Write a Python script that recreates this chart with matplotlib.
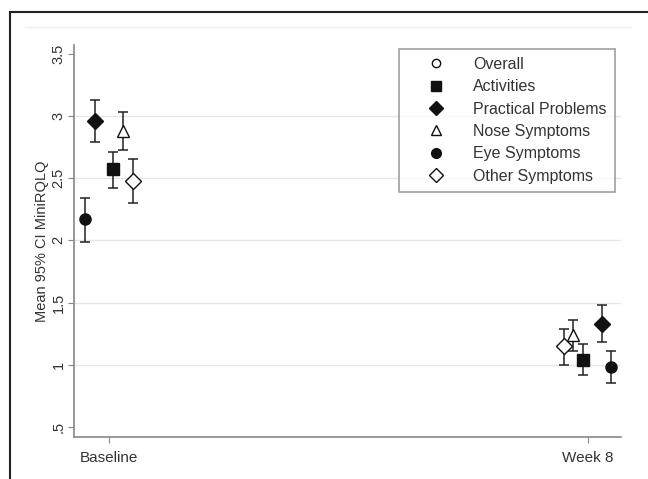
import numpy as np
import matplotlib
matplotlib.use('Agg')
from matplotlib import pyplot as plt
from matplotlib.lines import Line2D

plt.rcParams['font.family'] = ['Liberation Sans', 'DejaVu Sans']

timepoints = ['Baseline', 'Week 8']
domains = ['Overall', 'Activities', 'Practical Problems', 'Nose Symptoms',
           'Eye Symptoms', 'Other Symptoms']

# mean, lower and upper 95% CI per domain (baseline, week 8); Overall not plotted
mean = {
    'Overall': [np.nan, np.nan],
    'Activities': [2.57, 1.04],
    'Practical Problems': [2.96, 1.33],
    'Nose Symptoms': [2.88, 1.24],
    'Eye Symptoms': [2.17, 0.98],
    'Other Symptoms': [2.48, 1.15],
}
lower = {
    'Overall': [np.nan, np.nan],
    'Activities': [2.42, 0.92],
    'Practical Problems': [2.79, 1.18],
    'Nose Symptoms': [2.73, 1.11],
    'Eye Symptoms': [1.99, 0.85],
    'Other Symptoms': [2.30, 1.00],
}
upper = {
    'Overall': [np.nan, np.nan],
    'Activities': [2.71, 1.17],
    'Practical Problems': [3.13, 1.48],
    'Nose Symptoms': [3.03, 1.36],
    'Eye Symptoms': [2.34, 1.11],
    'Other Symptoms': [2.65, 1.29],
}

# horizontal jitter of each domain around the time point
jitter = {
    'Overall': [0.0, 0.0],
    'Activities': [0.008, -0.010],
    'Practical Problems': [-0.031, 0.030],
    'Nose Symptoms': [0.029, -0.030],
    'Eye Symptoms': [-0.052, 0.050],
    'Other Symptoms': [0.049, -0.050],
}

styles = {
    'Overall': dict(marker='o', mfc='white', ms=7),
    'Activities': dict(marker='s', mfc='#111111', ms=8),
    'Practical Problems': dict(marker='D', mfc='#111111', ms=8),
    'Nose Symptoms': dict(marker='^', mfc='white', ms=8),
    'Eye Symptoms': dict(marker='o', mfc='#111111', ms=8),
    'Other Symptoms': dict(marker='D', mfc='white', ms=8),
}

fig = plt.figure(figsize=(6.48, 4.79), dpi=100)
ax = fig.add_axes([74/648, 1-437/479, (621-74)/648, (437-45)/479])

# outer frame (only left and top edges fall inside the image)
fig.add_artist(Line2D([9.5/648, 9.5/648], [0, 1-12/479], transform=fig.transFigure,
                      color='#222222', lw=1.5))
fig.add_artist(Line2D([9.5/648, 1], [1-12/479, 1-12/479], transform=fig.transFigure,
                      color='#222222', lw=1.5))
fig.add_artist(Line2D([25/648, 631/648], [1-27/479, 1-27/479], transform=fig.transFigure,
                      color='#eeeeee', lw=1))

x = np.arange(len(timepoints))
for d in domains:
    m = np.array(mean[d])
    lo = np.array(lower[d])
    hi = np.array(upper[d])
    xs = x + np.array(jitter[d])
    st = styles[d]
    ax.errorbar(xs, m, yerr=[m - lo, hi - m], fmt='none', ecolor='#222222',
                elinewidth=1.1, capsize=3.5, capthick=1.1, zorder=2)
    ax.plot(xs, m, linestyle='none', marker=st['marker'], ms=st['ms'],
            mfc=st['mfc'], mec='#111111', mew=1.0, zorder=3)

ax.set_xlim(-0.074, 1.07)
ax.set_ylim(0.42, 3.57)
ax.set_xticks(x)
ax.set_xticklabels(timepoints)
yt = [0.5, 1, 1.5, 2, 2.5, 3, 3.5]
ax.set_yticks(yt)
ax.set_yticklabels(['.5', '1', '1.5', '2', '2.5', '3', '3.5'], rotation=90, va='center')
for g in [1, 1.5, 2, 2.5, 3]:
    ax.axhline(g, color='#e6e6e6', lw=1, zorder=0)

for s in ['top', 'right']:
    ax.spines[s].set_visible(False)
for s in ['left', 'bottom']:
    ax.spines[s].set_color('#888888')
    ax.spines[s].set_linewidth(1.2)
ax.tick_params(colors='#888888', labelcolor='#333333', labelsize=11, length=4)
ax.tick_params(axis='x', pad=6)
ax.tick_params(axis='y', pad=2, labelsize=10.5)
ax.set_ylabel('Mean 95% CI MiniRQLQ', fontsize=10.5, color='#333333')
ax.yaxis.set_label_coords(-0.045, 0.5)

handles = []
for d in domains:
    st = styles[d]
    ms = 6 if st['mfc'] == 'white' and st['marker'] == 'o' else 7
    handles.append(Line2D([], [], linestyle='none', marker=st['marker'], ms=ms,
                          mfc=st['mfc'], mec='#111111', mew=1.0))
leg = fig.legend(handles, domains, loc='upper left',
                 bbox_to_anchor=(399/648, 1-49/479), fontsize=11.5,
                 frameon=True, fancybox=False, borderpad=0.5,
                 labelspacing=0.46, handletextpad=0.55, borderaxespad=0,
                 handlelength=3.6, labelcolor='#333333')
leg.get_frame().set_edgecolor('#888888')
leg.get_frame().set_linewidth(1.2)

fig.savefig('out.png', dpi=100)
